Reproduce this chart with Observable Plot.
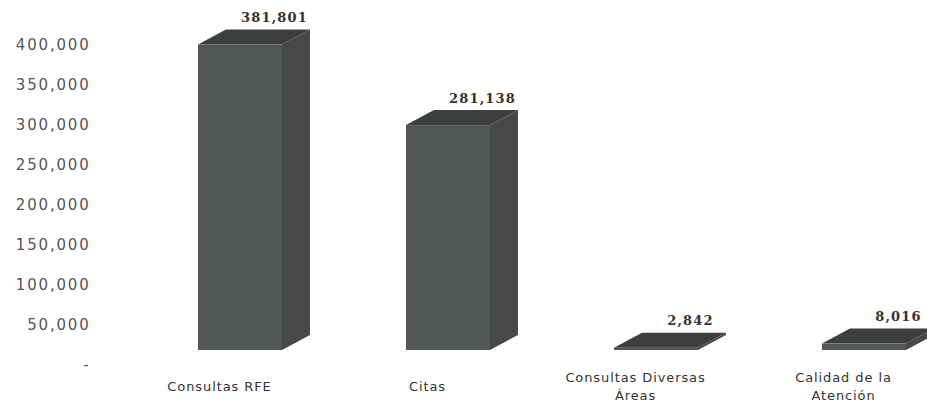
<!DOCTYPE html>
<html>
<head>
<meta charset="utf-8">
<script src="https://cdn.jsdelivr.net/npm/d3@7"></script>
<script src="https://cdn.jsdelivr.net/npm/@observablehq/plot@0.6"></script>
<style>
  html, body { margin: 0; padding: 0; background: #fff; }
  #chart svg { display: block; }
  #chart [aria-label="y-axis tick label"] text { letter-spacing: 1.8px; }
  #chart .value-label text { letter-spacing: 1.2px; }
  #chart .category-label text { letter-spacing: 0.9px; }
</style>
</head>
<body>
<div id="chart"></div>
<script>
// Attention channels and their yearly totals
const categories = ["Consultas RFE", "Citas", "Consultas Diversas Áreas", "Calidad de la Atención"];
const categoryLabels = ["Consultas RFE", "Citas", "Consultas Diversas\nÁreas", "Calidad de la\nAtención"];
const values = [381801, 281138, 2842, 8016];
const yTicks = [0, 50000, 100000, 150000, 200000, 250000, 300000, 350000, 400000];

const rows = categories.map((category, i) => ({category, label: categoryLabels[i], value: values[i]}));

// Box geometry for the extruded columns (pixels)
const faceWidth = 84;
const depthX = 28;
const depthY = -15;
const lift = -15;
const colors = {front: "#535753", side: "#464946", top: "#3d3f3d"};

const fmt = d3.format(",");

// Draws each column as a front face, a right side face and a top face,
// positioned through the plot's x (band) and y (linear) scales.
function columns3d(index, scales) {
  const x = scales.x;
  const y = scales.y;
  const bw = x.bandwidth ? x.bandwidth() : scales.scales.x.bandwidth;
  const g = d3.create("svg:g").attr("aria-label", "columns");
  for (const d of rows) {
    const cx = x(d.category) + bw / 2;
    const x0 = cx - faceWidth / 2;
    const x1 = cx + faceWidth / 2;
    const yb = y(0) + lift;
    const yt = y(d.value) + lift;
    g.append("polygon")
      .attr("points", [[x1, yb], [x1 + depthX, yb + depthY], [x1 + depthX, yt + depthY], [x1, yt]].join(" "))
      .attr("fill", colors.side);
    g.append("polygon")
      .attr("points", [[x0, yt], [x0 + depthX, yt + depthY], [x1 + depthX, yt + depthY], [x1, yt]].join(" "))
      .attr("fill", colors.top);
    g.append("rect")
      .attr("x", x0).attr("y", yt)
      .attr("width", faceWidth).attr("height", Math.max(0, yb - yt))
      .attr("fill", colors.front);
  }
  return g.node();
}

const chart = Plot.plot({
  width: 927,
  height: 409,
  marginLeft: 92,
  marginTop: 0,
  marginBottom: 0,
  marginRight: 0,
  style: {fontFamily: "DejaVu Sans", background: "#fff", overflow: "hidden"},
  x: {type: "band", domain: categories, range: [135, 969], padding: 0, axis: null},
  y: {domain: [0, 400000], range: [365, 45], axis: null},
  marks: [
    Plot.axisY(yTicks, {
      anchor: "left",
      tickSize: 0,
      tickPadding: 2,
      tickFormat: d => d === 0 ? "-" : fmt(d),
      fontSize: 15,
      fill: "#555",
      label: null
    }),
    columns3d,
    Plot.text(rows, {
      x: "category",
      y: "value",
      text: d => fmt(d.value),
      dx: 34,
      dy: -42,
      fontSize: 13,
      fontWeight: "bold",
      fontFamily: "DejaVu Serif",
      fill: "#333",
      className: "value-label"
    }),
    Plot.text(rows, {
      x: "category",
      y: d => 0,
      text: "label",
      dx: -21,
      dy: 19.5,
      lineAnchor: "middle",
      lineHeight: 1.38,
      fontSize: 13,
      fill: "#333",
      className: "category-label"
    })
  ]
});

document.getElementById("chart").append(chart);
</script>
</body>
</html>
